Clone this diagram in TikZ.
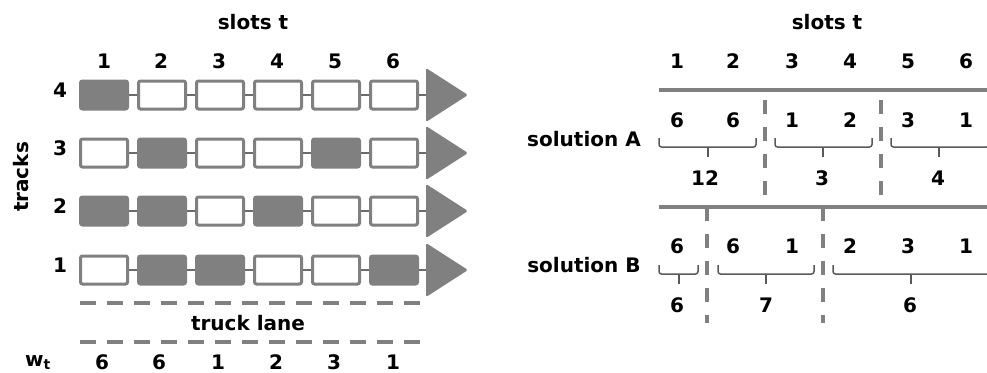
\documentclass[tikz,border=0pt]{standalone}
\usepackage{fontspec}
\setmainfont{DejaVu Sans}
\newcommand\slotrow[8]{%
  \node[#3] (r#1c1) at (104,#2) {};
  \node[#4] (r#1c2) at (162,#2) {};
  \node[#5] (r#1c3) at (220,#2) {};
  \node[#6] (r#1c4) at (278,#2) {};
  \node[#7] (r#1c5) at (336,#2) {};
  \node[#8] (r#1c6) at (394,#2) {};
  \coordinate (r#1end) at (427,#2);
  \draw[link] (r#1c1) -- (r#1c2);
  \draw[link] (r#1c2) -- (r#1c3);
  \draw[link] (r#1c3) -- (r#1c4);
  \draw[link] (r#1c4) -- (r#1c5);
  \draw[link] (r#1c5) -- (r#1c6);
  \draw[link] (r#1c6) -- (r#1end);
  \fill[gray, rounded corners=1.5pt] (426,#2-27) -- (468,#2) -- (426,#2+27) -- cycle;
}
\newcommand\bracedown[4]{%
  \draw[bracestyle] (#1,#4) -- (#1,#4+9) -- (#2,#4+9) -- (#2,#4);
  \draw[bracestyle] (#3,#4+9) -- (#3,#4+19);
}
\begin{document}
\begin{tikzpicture}[x=1pt,y=-1pt,
  font=\fontsize{20}{24}\selectfont\bfseries,
  txt/.style={inner sep=0pt, anchor=base},
  slotbox/.style={draw=gray, line width=3pt, minimum width=47pt, minimum height=28pt, rounded corners=2pt, inner sep=0pt},
  emptybox/.style={slotbox, fill=white},
  fullbox/.style={slotbox, fill=gray},
  link/.style={draw=gray!85!black, line width=2.5pt},
  lane/.style={draw=gray, line width=3.5pt, dash pattern=on 16pt off 11pt},
  solidline/.style={draw=gray, line width=3.5pt},
  vdash/.style={draw=gray, line width=3.5pt, dash pattern=on 14pt off 13pt},
  bracestyle/.style={draw=black!65, line width=1.5pt, rounded corners=2.5pt}]
\useasboundingbox (0,0) rectangle (987,372);

% ---------- left panel ----------
\node[txt] (slotsL) at (253,29) {slots t};
\node[txt] (nL1) at (104,68) {1};
\node[txt] (nL2) at (161,68) {2};
\node[txt] (nL3) at (219,68) {3};
\node[txt] (nL4) at (277,68) {4};
\node[txt] (nL5) at (335,68) {5};
\node[txt] (nL6) at (393,68) {6};

\node[inner sep=0pt, rotate=90] (tracks) at (21,177) {tracks};
\node[txt] (tr4) at (60,97) {4};
\node[txt] (tr3) at (60,155) {3};
\node[txt] (tr2) at (60,213) {2};
\node[txt] (tr1) at (60,272) {1};

\slotrow{4}{95}{fullbox}{emptybox}{emptybox}{emptybox}{emptybox}{emptybox}
\slotrow{3}{153}{emptybox}{fullbox}{emptybox}{emptybox}{fullbox}{emptybox}
\slotrow{2}{211}{fullbox}{fullbox}{emptybox}{fullbox}{emptybox}{emptybox}
\slotrow{1}{270}{emptybox}{fullbox}{fullbox}{emptybox}{emptybox}{fullbox}

\coordinate (lane1a) at (80,303);
\coordinate (lane1b) at (420,303);
\coordinate (lane2a) at (80,342);
\coordinate (lane2b) at (420,342);
\draw[lane] (lane1a) -- (lane1b);
\draw[lane] (lane2a) -- (lane2b);
\node[txt] (truck) at (248,330) {truck lane};

\node[txt, anchor=base west] (wt) at (25,366) {w\raisebox{-3.5pt}{\fontsize{14}{14}\selectfont t}};
\node[txt] (w1) at (102,369) {6};
\node[txt] (w2) at (159,369) {6};
\node[txt] (w3) at (218,369) {1};
\node[txt] (w4) at (276,369) {2};
\node[txt] (w5) at (334,369) {3};
\node[txt] (w6) at (393,369) {1};

% ---------- right panel ----------
\node[txt] (slotsR) at (827,29) {slots t};
\node[txt] (nR1) at (677,68) {1};
\node[txt] (nR2) at (733,68) {2};
\node[txt] (nR3) at (792,68) {3};
\node[txt] (nR4) at (850,68) {4};
\node[txt] (nR5) at (908,68) {5};
\node[txt] (nR6) at (966,68) {6};

\coordinate (la) at (659,90);
\coordinate (lb) at (987,90);
\draw[solidline] (la) -- (lb);
\coordinate (ma) at (659,207);
\coordinate (mb) at (987,207);
\draw[solidline] (ma) -- (mb);

\node[txt] (solA) at (584,146) {solution A};
\node[txt] (a1) at (677,127) {6};
\node[txt] (a2) at (733,127) {6};
\node[txt] (a3) at (792,127) {1};
\node[txt] (a4) at (850,127) {2};
\node[txt] (a5) at (908,127) {3};
\node[txt] (a6) at (966,127) {1};
\bracedown{659}{756}{708}{138}
\bracedown{775}{872}{823}{138}
\bracedown{891}{989}{939}{138}
\node[txt] (sa1) at (705,185) {12};
\node[txt] (sa2) at (822,185) {3};
\node[txt] (sa3) at (938,185) {4};
\coordinate (dA1t) at (765,100);
\coordinate (dA1b) at (765,197);
\coordinate (dA2t) at (881,100);
\coordinate (dA2b) at (881,197);
\draw[vdash] (dA1t) -- (dA1b);
\draw[vdash] (dA2t) -- (dA2b);

\node[txt] (solB) at (584,272) {solution B};
\node[txt] (b1) at (677,253) {6};
\node[txt] (b2) at (733,253) {6};
\node[txt] (b3) at (792,253) {1};
\node[txt] (b4) at (850,253) {2};
\node[txt] (b5) at (908,253) {3};
\node[txt] (b6) at (966,253) {1};
\bracedown{659}{698}{679}{265}
\bracedown{718}{814}{766}{265}
\bracedown{833}{990}{911}{265}
\node[txt] (sb1) at (677,312) {6};
\node[txt] (sb2) at (766,312) {7};
\node[txt] (sb3) at (910,312) {6};
\coordinate (dB1t) at (707,207);
\coordinate (dB1b) at (707,323);
\coordinate (dB2t) at (823,207);
\coordinate (dB2b) at (823,323);
\draw[vdash] (dB1t) -- (dB1b);
\draw[vdash] (dB2t) -- (dB2b);
\end{tikzpicture}
\end{document}
